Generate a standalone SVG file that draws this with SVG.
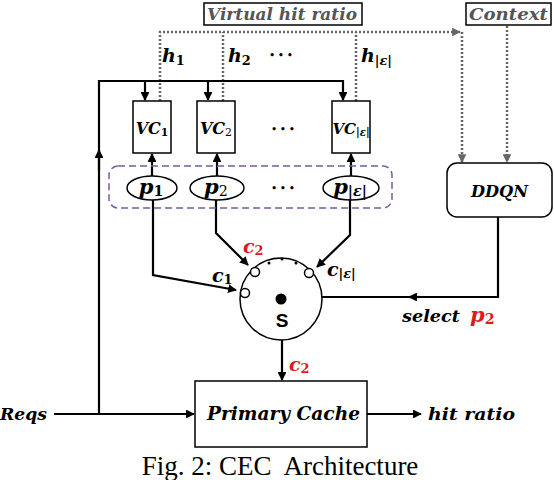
<svg xmlns="http://www.w3.org/2000/svg" width="554" height="480" viewBox="0 0 554 480">
<defs>
<marker id="ah" viewBox="0 0 10 10" refX="9" refY="5" markerWidth="4" markerHeight="4" orient="auto" markerUnits="strokeWidth"><path d="M0,0 L10,5 L0,10 z" fill="#000"/></marker>
<marker id="ahg" viewBox="0 0 10 10" refX="9" refY="5" markerWidth="3.5" markerHeight="3.5" orient="auto" markerUnits="strokeWidth"><path d="M0,0 L10,5 L0,10 z" fill="#666"/></marker>
<marker id="ahr" viewBox="0 0 10 10" refX="8" refY="5" markerWidth="3.5" markerHeight="3.5" orient="auto" markerUnits="strokeWidth"><path d="M0,0 L10,5 L0,10 z" fill="#e0191e"/></marker>
</defs>
<style>
.ln{fill:none;stroke:#000;stroke-width:2.2}
.dot{fill:none;stroke:#666;stroke-width:2.5;stroke-dasharray:2 2}
.box{fill:#fff;stroke:#000;stroke-width:1.5}
.m{font-family:"DejaVu Serif","Liberation Serif",serif;font-weight:bold;font-style:italic;fill:#000}
.g{fill:#555}
.r{fill:#e0191e}
.sub{font-size:68%;font-style:normal}
.si{font-size:68%}
</style>
<g id="connectors">
<path class="dot" d="M160,101 V32 H460" marker-end="url(#ahg)"/>
<path class="dot" d="M223,101 V32"/>
<path class="dot" d="M356,101 V32"/>
<path class="dot" d="M462,32 V162" marker-end="url(#ahg)"/>
<path class="dot" d="M507,26 V162" marker-end="url(#ahg)"/>
<path class="ln" d="M99,414 V81 H343"/>
<path class="ln" d="M99,170 V150" marker-end="url(#ah)"/>
<path class="ln" d="M145,80 V100" marker-end="url(#ah)"/>
<path class="ln" d="M208,80 V100" marker-end="url(#ah)"/>
<path class="ln" d="M343,80 V100" marker-end="url(#ah)"/>
<path class="ln" d="M152,176 V154" marker-end="url(#ah)"/>
<path class="ln" d="M217,176 V154" marker-end="url(#ah)"/>
<path class="ln" d="M351,176 V154" marker-end="url(#ah)"/>
<path class="ln" d="M153,200 V275 L236,290" marker-end="url(#ah)"/>
<path class="ln" d="M216,200 V233 L248,265" marker-end="url(#ah)"/>
<path class="ln" d="M350,200 V235 L317,267" marker-end="url(#ah)"/>
<path class="ln" d="M498,217 V297 H322"/>
<path class="ln" d="M420,297 H409" marker-end="url(#ah)"/>
<path class="ln" d="M282,340 V380" marker-end="url(#ah)"/>
<path class="ln" d="M54,414 H194" marker-end="url(#ah)"/>
<path class="ln" d="M367,414 H421" marker-end="url(#ah)"/>
<path d="M281,299 L259,278" fill="none" stroke="#e0191e" stroke-width="3.2" marker-end="url(#ahr)"/>
</g>
<g id="virtual-hit-ratio">
<rect x="204" y="3" width="158" height="22" class="box"/>
<text x="207" y="20" class="m g" font-size="17" textLength="150" lengthAdjust="spacingAndGlyphs">Virtual hit ratio</text>
</g>
<g id="context">
<rect x="466" y="3" width="85" height="22" class="box"/>
<text x="469" y="20" class="m g" font-size="17" textLength="79" lengthAdjust="spacingAndGlyphs">Context</text>
</g>
<g id="h-labels">
<text x="162" y="62" class="m" font-size="19">h<tspan class="sub" dy="3">1</tspan></text>
<text x="228" y="62" class="m" font-size="19">h<tspan class="sub" dy="3">2</tspan></text>
<text x="281" y="58" text-anchor="middle" class="m" font-size="9">• • •</text>
<text x="361" y="62" class="m" font-size="19">h<tspan class="si" dy="3">|ε|</tspan></text>
</g>
<g id="vc1"><rect x="133" y="101" width="38" height="52" class="box"/><text x="152" y="134" text-anchor="middle" class="m" font-size="16">VC<tspan class="sub" dy="2">1</tspan></text></g>
<g id="vc2"><rect x="197" y="101" width="38" height="52" class="box"/><text x="216" y="134" text-anchor="middle" class="m" font-size="16">VC<tspan class="sub" dy="2" font-weight="normal">2</tspan></text></g>
<text x="283" y="132" text-anchor="middle" class="m" font-size="9">• • •</text>
<g id="vce"><rect x="332" y="101" width="38" height="52" class="box"/><text x="351" y="134" text-anchor="middle" class="m" font-size="15">VC<tspan class="si" dy="2">|ε|</tspan></text></g>
<g id="policies">
<rect x="109" y="166" width="283" height="42" rx="9" fill="none" stroke="#7b5a9c" stroke-width="1.5" stroke-dasharray="7 4"/>
<g id="p1"><ellipse cx="152" cy="188" rx="25" ry="12" class="box"/><text x="151" y="194" text-anchor="middle" class="m" font-size="21">p<tspan class="sub" dy="2">1</tspan></text></g>
<g id="p2"><ellipse cx="217" cy="188" rx="27" ry="12" class="box"/><text x="216" y="194" text-anchor="middle" class="m" font-size="21">p<tspan class="sub" dy="2" font-weight="normal">2</tspan></text></g>
<text x="283" y="191" text-anchor="middle" class="m" font-size="9">• • •</text>
<g id="pe"><ellipse cx="351" cy="188" rx="28" ry="12" class="box"/><text x="350" y="194" text-anchor="middle" class="m" font-size="21">p<tspan class="si" dy="2">|ε|</tspan></text></g>
</g>
<g id="ddqn">
<rect x="447" y="163" width="105" height="54" rx="10" class="box"/>
<text x="471" y="197" class="m" font-size="17" textLength="57" lengthAdjust="spacingAndGlyphs">DDQN</text>
</g>
<g id="switch">
<circle cx="281" cy="299" r="41" class="box" stroke-width="2"/>
<circle cx="255" cy="272" r="4.5" class="box"/>
<circle cx="245" cy="293" r="4.5" class="box"/>
<circle cx="309" cy="273" r="4.5" class="box"/>
<circle cx="269" cy="263" r="1.5" fill="#000"/>
<circle cx="282" cy="259" r="1.5" fill="#000"/>
<circle cx="296" cy="263" r="1.5" fill="#000"/>
<circle cx="281" cy="299" r="5.5" fill="#000"/>
<text x="282" y="327" text-anchor="middle" font-family="Liberation Sans,Arial,sans-serif" font-weight="bold" font-size="19">S</text>
</g>
<g id="switch-labels">
<text x="212" y="282" class="m" font-size="19">c<tspan class="sub" dy="2">1</tspan></text>
<text x="243" y="253" class="m r" font-size="19">c<tspan class="sub" dy="2">2</tspan></text>
<text x="327" y="276" class="m" font-size="19">c<tspan class="si" dy="2">|ε|</tspan></text>
<text x="402" y="322" class="m" font-size="17" textLength="58" lengthAdjust="spacingAndGlyphs">select</text>
<text x="470" y="322" class="m r" font-size="21">p<tspan class="sub" dy="2">2</tspan></text>
<text x="289" y="371" class="m r" font-size="19">c<tspan class="sub" dy="2">2</tspan></text>
</g>
<g id="primary-cache">
<rect x="195" y="381" width="172" height="66" class="box"/>
<text x="207" y="420" class="m" font-size="18" textLength="153" lengthAdjust="spacingAndGlyphs">Primary Cache</text>
</g>
<text x="0" y="420" class="m" font-size="17" textLength="47" lengthAdjust="spacingAndGlyphs">Reqs</text>
<text x="428" y="420" class="m" font-size="17" textLength="87" lengthAdjust="spacingAndGlyphs">hit ratio</text>
<text x="280" y="475" text-anchor="middle" font-family="Liberation Serif,Times New Roman,serif" font-size="27" xml:space="preserve">Fig. 2: CEC  Architecture</text>
</svg>
